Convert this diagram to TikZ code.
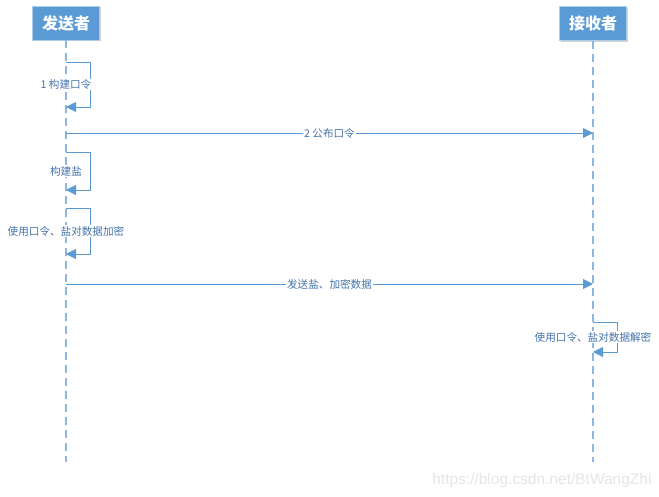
\documentclass[tikz,border=0pt]{standalone}
\usepackage{fontspec}
\setmainfont{Liberation Sans}
\newfontfamily\cjk{Noto Sans CJK SC}
\usetikzlibrary{arrows.meta,shadows}
\definecolor{actorblue}{HTML}{5B9BD5}
\definecolor{lineblue}{HTML}{5B9BD5}
\definecolor{lifeblue}{HTML}{8DB6E2}
\definecolor{textblue}{HTML}{4474AC}

\begin{document}
\begin{tikzpicture}[x=1pt,y=-1pt,
  actor/.style={draw=lifeblue!70!white, fill=actorblue, text=white, font=\cjk\bfseries\fontsize{16}{16}\selectfont,
    minimum width=67pt, minimum height=34pt, inner sep=0pt,
    drop shadow={shadow xshift=1.5pt, shadow yshift=-1.5pt, fill=black!35, opacity=0.5}},
  lifeline/.style={lifeblue, line width=1.6pt, dash pattern=on 8pt off 5pt},
  msg/.style={lineblue, line width=0.9pt, -{Triangle[length=10pt,width=10pt]}},
  lbl/.style={fill=white, text=textblue, font=\cjk\fontsize{10.6}{11}\selectfont, inner sep=1pt}]
\newcommand{\Sx}{66}; % sender x
\newcommand{\Rx}{593}; % receiver x
\newcommand{\Lend}{462}; % end of lifelines
\newcommand{\Lw}{24}; % self loop width

\useasboundingbox (0,0) rectangle (659,497);

% actors
\node[actor] (send) at (\Sx, 23) {发送者};
\node[actor] (recv) at (\Rx, 23.5) {接收者};

\coordinate (sendend) at (\Sx, \Lend);
\coordinate (recvend) at (\Rx, \Lend);

% lifelines
\draw[lifeline] (send.south) -- (sendend);
\draw[lifeline] (recv.south) -- (recvend);
%

\coordinate (s1a) at (\Sx, 62);
\coordinate (s1b) at (\Sx, 107);
\coordinate (m2a) at (\Sx, 133);
\coordinate (m2b) at (\Rx, 133);
\coordinate (s2a) at (\Sx, 152);
\coordinate (s2b) at (\Sx, 190);
\coordinate (s3a) at (\Sx, 208);
\coordinate (s3b) at (\Sx, 254);
\coordinate (m3a) at (\Sx, 284);
\coordinate (m3b) at (\Rx, 284);
\coordinate (r1a) at (\Rx, 322);
\coordinate (r1b) at (\Rx, 352);

% self messages
\draw[msg] (s1a) -- ++(\Lw, 0) |- (s1b);
\path (s1a) -- (s1b) node[midway, lbl] {1 构建口令};

\draw[msg] (s2a) -- ++(\Lw, 0) |- (s2b);
\path (s2a) -- (s2b) node[midway, lbl] {构建盐};

\draw[msg] (s3a) -- ++(\Lw, 0) |- (s3b);
\path (s3a) -- (s3b) node[midway, lbl] {使用口令、盐对数据加密};

\draw[msg] (r1a) -- ++(\Lw, 0) |- (r1b);
\path (r1a) -- (r1b) node[midway, lbl] {使用口令、盐对数据解密};

% messages
\draw[msg] (m2a) -- (m2b) node[midway, lbl] {2 公布口令};
\draw[msg] (m3a) -- (m3b) node[midway, lbl] {发送盐、加密数据};

\node[text=black!10, font=\fontsize{15.5}{16}\selectfont, anchor=east] (mark) at (655, 480) {https://blog.csdn.net/BtWangZhi};
\end{tikzpicture}
\end{document}
